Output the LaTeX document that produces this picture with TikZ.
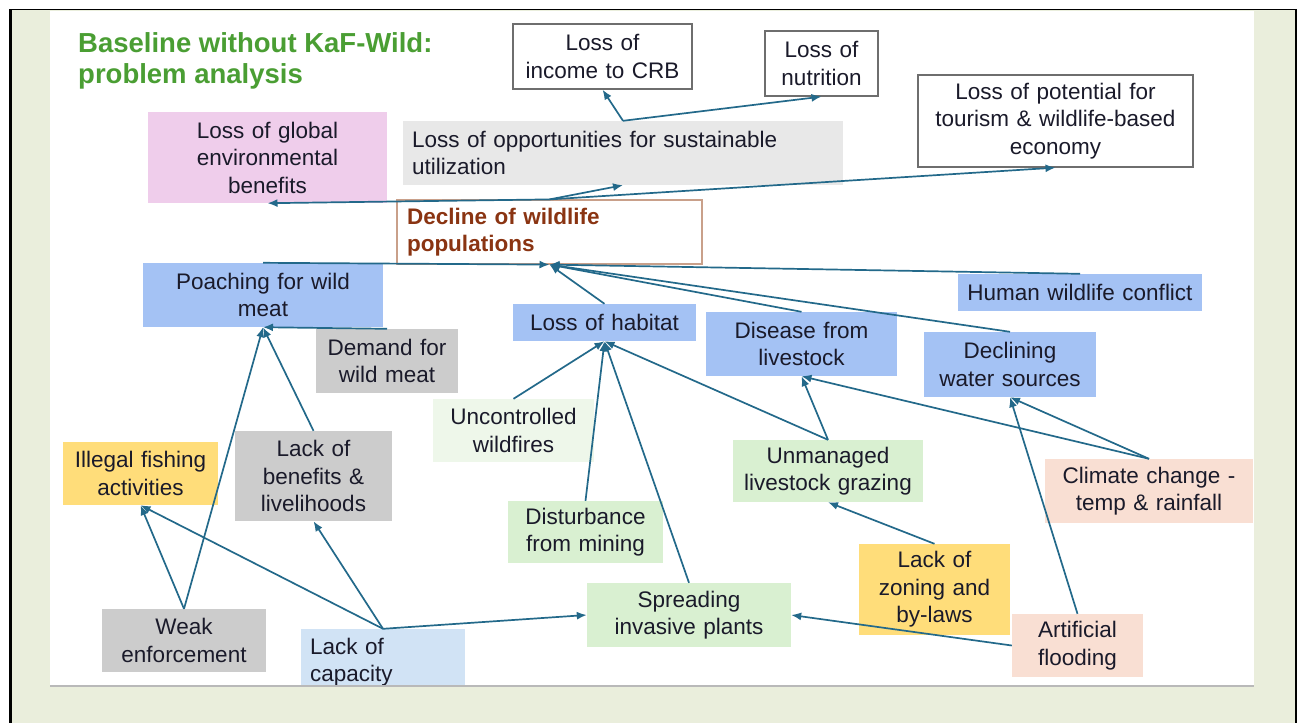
\documentclass[tikz,border=0pt]{standalone}
\usepackage{fontspec}
\setmainfont{Liberation Sans}
\usetikzlibrary{arrows.meta}
\definecolor{bggreen}{HTML}{EAEEDC}
\definecolor{arrowc}{HTML}{23698A}
\definecolor{blu}{HTML}{A4C2F4}
\definecolor{gry}{HTML}{CCCCCC}
\definecolor{lgry}{HTML}{E8E8E8}
\definecolor{pnk}{HTML}{EFCDEB}
\definecolor{yel}{HTML}{FFDD7A}
\definecolor{lgrn}{HTML}{D9F0D1}
\definecolor{vlgrn}{HTML}{EEF7EA}
\definecolor{pch}{HTML}{F9DFD3}
\definecolor{lblu}{HTML}{D1E3F5}
\definecolor{ttlgreen}{HTML}{4A9E33}
\definecolor{decbord}{HTML}{C9A08A}
\definecolor{dectext}{HTML}{8A3412}
\definecolor{txt}{HTML}{1A1A2A}
\definecolor{wbord}{HTML}{6E6E6E}
\newcommand{\mybox}[8][3]{%
  \pgfmathsetmacro\bw{#6-#4}%
  \pgfmathsetmacro\bh{#7-#5}%
  \pgfmathsetmacro\tw{#6-#4-2*#1}%
  \pgfmathsetmacro\cx{(#4+#6)/2}%
  \pgfmathsetmacro\cy{(#5+#7)/2}%
  \node[box,#3,inner xsep=#1pt,minimum width=\bw pt,minimum height=\bh pt,text width=\tw pt] (#2) at (\cx,\cy) {#8};%
}
\tikzset{
  box/.style={rectangle, inner ysep=0pt, text=txt, align=center,
    font=\fontsize{22.5}{27.5}\selectfont},
  wbox/.style={draw=wbord, line width=1.3pt, fill=white},
  declbox/.style={draw=decbord, line width=1.2pt, fill=white, text=dectext, align=left,
    font=\bfseries\fontsize{22.5}{27.5}\selectfont},
  arr/.style={draw=arrowc, line width=1.7pt, -{Latex[length=10pt,width=8pt]}},
}
\begin{document}
\begin{tikzpicture}[x=1pt,y=-1pt]
\useasboundingbox (0,0) rectangle (1297,723);
% frame
\fill[white] (0,0) rectangle (1297,723);
\fill[bggreen] (10,9) rectangle (1297,723);
\fill[white] (50,10.5) rectangle (1254,686);
\draw[black, line width=2.5pt] (10.5,9) -- (10.5,723);
\draw[black, line width=1.5pt] (9,9.5) -- (1297,9.5);
\draw[black, line width=1.5pt] (1296,9) -- (1296,723);
% title
\node[anchor=north west, inner sep=0pt, align=left, text=ttlgreen,
  font=\bfseries\fontsize{27.5}{31.5}\selectfont] (title) at (78,32)
  {Baseline without KaF-Wild:\\problem analysis};
% boxes
\mybox{glob}{fill=pnk}{148}{112}{387}{203}{Loss of global\\environmental\\benefits}
\mybox[9]{opp}{fill=lgry,align=left}{403}{121}{843}{185}{Loss of opportunities for sustainable\\utilization}
\mybox{income}{wbox}{513}{24}{692}{89}{Loss of\\income to CRB}
\mybox{nutr}{wbox}{765}{31}{878}{96}{Loss of\\nutrition}
\mybox{tour}{wbox}{918}{75}{1193}{167}{Loss of potential for\\tourism \& wildlife-based\\economy}
\mybox[10]{decl}{declbox}{397}{200}{702}{264}{Decline of wildlife\\populations}
\mybox{poach}{fill=blu}{143}{263}{383}{327}{Poaching for wild\\meat}
\mybox{demand}{fill=gry}{316}{329}{458}{393}{Demand for\\wild meat}
\mybox{habitat}{fill=blu}{513}{304}{696}{341}{Loss of habitat}
\mybox{disease}{fill=blu}{706}{312}{897}{376}{Disease from\\livestock}
\mybox{water}{fill=blu}{924}{332}{1096}{397}{Declining\\water sources}
\mybox{hwc}{fill=blu}{958}{274}{1202}{311}{Human wildlife conflict}
\mybox{fire}{fill=vlgrn}{433}{399}{594}{462}{Uncontrolled\\wildfires}
\mybox{mining}{fill=lgrn}{508}{501}{663}{563}{Disturbance\\from mining}
\mybox{invasive}{fill=lgrn}{587}{583}{791}{647}{Spreading\\invasive plants}
\mybox{graze}{fill=lgrn}{733}{440}{923}{502}{Unmanaged\\livestock grazing}
\mybox{zoning}{fill=yel}{859}{544}{1010}{635}{Lack of\\zoning and\\by-laws}
\mybox{climate}{fill=pch}{1045}{459}{1253}{523}{Climate change -\\temp \& rainfall}
\mybox{flood}{fill=pch}{1012}{614}{1143}{677}{Artificial\\flooding}
\mybox{fish}{fill=yel}{63}{442}{218}{505}{Illegal fishing\\activities}
\mybox{benef}{fill=gry}{235}{431}{392}{521}{Lack of\\benefits \&\\livelihoods}
\mybox{weak}{fill=gry}{102}{609}{266}{672}{Weak\\enforcement}
\mybox[9]{capac}{fill=lblu,align=left}{301}{629}{465}{695}{Lack of\\capacity}
% slide bottom clips the last box
\fill[bggreen] (12,687) rectangle (1295,723);
\draw[gray!55, line width=1.2pt] (50,686) -- (1254,686);
% connectors
\draw[arr] (decl.north) -- (glob.south);
\draw[arr] (decl.north) -- (opp.south);
\draw[arr] (decl.north) -- (tour.south);
\draw[arr] (opp.north) -- (income.south);
\draw[arr] (opp.north) -- (nutr.south);
\draw[arr] (poach.north) -- (decl.south);
\draw[arr] (habitat.north) -- (decl.south);
\draw[arr] (disease.north) -- (decl.south);
\draw[arr] (water.north) -- (decl.south);
\draw[arr] (hwc.north) -- (decl.south);
\draw[arr] (demand.north) -- (poach.south);
\draw[arr] (benef.north) -- (poach.south);
\draw[arr] (weak.north) -- (poach.south);
\draw[arr] (weak.north) -- (fish.south);
\draw[arr] (capac.north) -- (fish.south);
\draw[arr] (capac.north) -- (benef.south);
\draw[arr] (capac.north) -- (invasive.west);
\draw[arr] (fire.north) -- (habitat.south);
\draw[arr] (mining.north) -- (habitat.south);
\draw[arr] (invasive.north) -- (habitat.south);
\draw[arr] (graze.north) -- (habitat.south);
\draw[arr] (graze.north) -- (disease.south);
\draw[arr] (climate.north) -- (disease.south);
\draw[arr] (climate.north) -- (water.south);
\draw[arr] (flood.north) -- (water.south);
\draw[arr] (flood.west) -- (invasive.east);
\draw[arr] (zoning.north) -- (graze.south);
\end{tikzpicture}
\end{document}
